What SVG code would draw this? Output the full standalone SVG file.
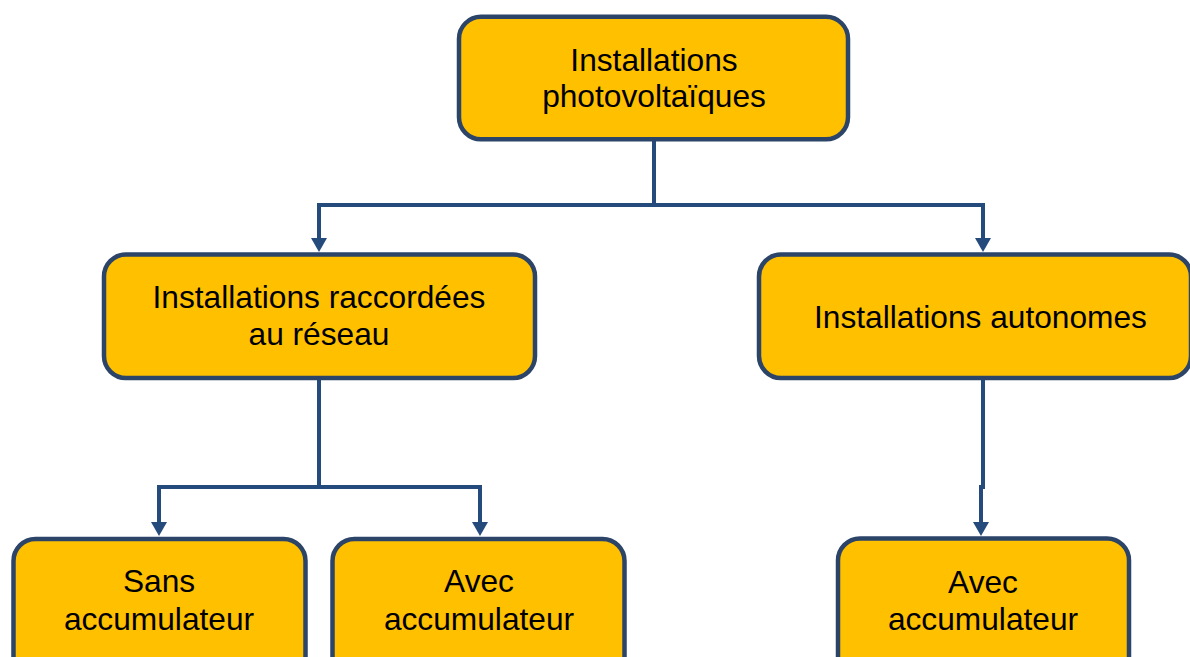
<svg xmlns="http://www.w3.org/2000/svg" width="1190" height="657" viewBox="0 0 1190 657">
  <style>
    .node rect { fill: #FFC000; stroke: #2b4468; stroke-width: 4.5; }
    .node text { font-family: "Liberation Sans", Arial, sans-serif; font-size: 31.7px; fill: #000; text-anchor: middle; }
    .conn path { fill: none; stroke: #254b7c; stroke-width: 4; }
  </style>
  <defs>
    <marker id="arr" viewBox="0 0 14 16" refX="1" refY="8" markerWidth="14" markerHeight="16" markerUnits="userSpaceOnUse" orient="auto">
      <path d="M0,0 L14,8 L0,16 z" fill="#254b7c"/>
    </marker>
  </defs>
  <rect width="1190" height="657" fill="#fff"/>

  <g id="connectors" class="conn">
    <path d="M654,141 V205"/>
    <path d="M654,205 H319 V239" marker-end="url(#arr)"/>
    <path d="M654,205 H983 V239" marker-end="url(#arr)"/>
    <path d="M319,380 V487"/>
    <path d="M319,487 H159 V523" marker-end="url(#arr)"/>
    <path d="M319,487 H480 V523" marker-end="url(#arr)"/>
    <path d="M983,380 V487 H981 V523" marker-end="url(#arr)"/>
  </g>

  <g id="node-root" class="node">
    <rect x="459" y="16.8" width="389" height="122.5" rx="22"/>
    <text x="654" y="71">Installations</text>
    <text x="654" y="107">photovoltaïques</text>
  </g>

  <g id="node-raccordees" class="node">
    <rect x="104" y="254.5" width="431" height="123.5" rx="22"/>
    <text x="319" y="308">Installations raccordées</text>
    <text x="319" y="345">au réseau</text>
  </g>

  <g id="node-autonomes" class="node">
    <rect x="759" y="254.5" width="432" height="123.5" rx="22"/>
    <text x="980.5" y="328">Installations autonomes</text>
  </g>

  <g id="node-sans" class="node">
    <rect x="13.5" y="539" width="292" height="140" rx="22"/>
    <text x="159" y="592">Sans</text>
    <text x="159" y="630">accumulateur</text>
  </g>

  <g id="node-avec1" class="node">
    <rect x="332.5" y="539" width="292" height="140" rx="22"/>
    <text x="479" y="592">Avec</text>
    <text x="479" y="630">accumulateur</text>
  </g>

  <g id="node-avec2" class="node">
    <rect x="838" y="538.5" width="291" height="140" rx="22"/>
    <text x="983" y="593">Avec</text>
    <text x="983" y="630">accumulateur</text>
  </g>
</svg>
